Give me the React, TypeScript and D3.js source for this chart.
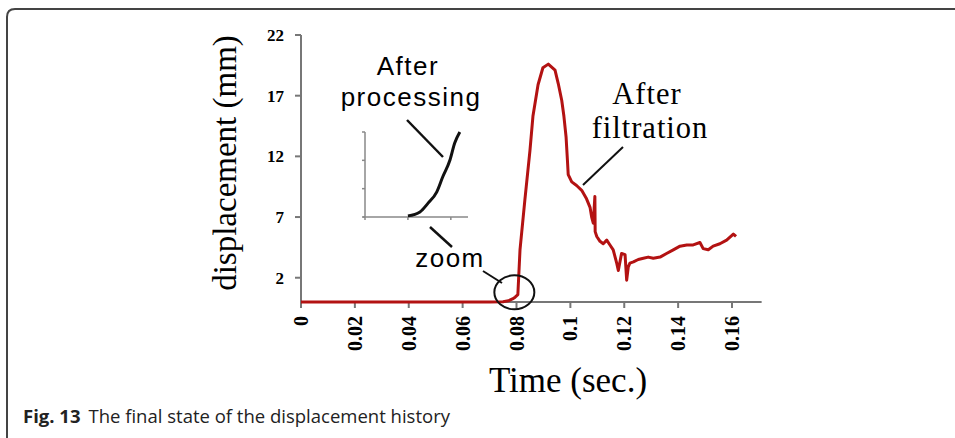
import React from 'react';
import * as d3 from 'd3';

// main displacement record (sec, mm)
const time = [
  0, 0.01, 0.02, 0.03, 0.04, 0.05, 0.06, 0.07, 0.075, 0.077, 0.0785, 0.0795, 0.0805,
  0.0813, 0.0831, 0.085, 0.0861, 0.088, 0.0898, 0.0918, 0.0943, 0.0955, 0.0968, 0.0976,
  0.0984, 0.0989, 0.0992, 0.1005, 0.1023, 0.1042, 0.106, 0.1073, 0.1079, 0.1085, 0.1091,
  0.1092, 0.1098, 0.111, 0.1122, 0.1135, 0.1147, 0.1159, 0.1172, 0.1178, 0.119, 0.1203,
  0.1209, 0.1215, 0.1221, 0.1234, 0.1252, 0.1271, 0.1289, 0.1308, 0.1333, 0.1357, 0.1382,
  0.1407, 0.1432, 0.1456, 0.1481, 0.1493, 0.1512, 0.153, 0.1555, 0.158, 0.1605, 0.1615,
];
const displacement = [
  0, 0, 0, 0, 0, 0, 0, 0, 0.02, 0.1, 0.25, 0.4, 0.6,
  4.3, 8.4, 12.5, 15.3, 17.9, 19.3, 19.6, 19.1, 18.0, 16.6, 15.3,
  13.6, 11.7, 10.5, 9.9, 9.6, 9.2, 8.5, 7.8, 7.0, 6.5, 8.7,
  5.8, 5.4, 5.0, 4.8, 5.1, 4.7, 4.3, 3.2, 2.6, 4.0, 3.9,
  1.8, 2.9, 3.2, 3.3, 3.5, 3.6, 3.7, 3.6, 3.7, 4.0, 4.3,
  4.6, 4.7, 4.7, 4.9, 4.4, 4.3, 4.6, 4.8, 5.1, 5.6, 5.4,
];
const xTicks = [0, 0.02, 0.04, 0.06, 0.08, 0.1, 0.12, 0.14, 0.16];
const yTicks = [2, 7, 12, 17, 22];

// zoomed inset ("After processing")
const insetX = [1.0, 1.28, 1.47, 1.67, 1.81, 1.98, 2.09, 2.21];
const insetY = [0.04, 0.18, 0.49, 0.88, 1.41, 2.01, 2.61, 3.0];
const insetXTicks = [0, 1, 2];
const insetYTicks = [0, 1, 2, 3];

const W = 955;
const H = 438;

export default function App() {
  const x = d3.scaleLinear().domain([0, 0.16]).range([301, 732]);
  const y = d3.scaleLinear().domain([0, 22]).range([302, 35]);
  const ix = d3.scaleLinear().domain([0, 2.4]).range([365, 468]);
  const iy = d3.scaleLinear().domain([0, 3]).range([217, 132]);

  const pts = time.map((t, i) => [t, displacement[i]] as [number, number]);
  const line = d3.line<[number, number]>().x(d => x(d[0])).y(d => y(d[1]));
  const ipts = insetX.map((v, i) => [v, insetY[i]] as [number, number]);
  const iline = d3.line<[number, number]>().x(d => ix(d[0])).y(d => iy(d[1])).curve(d3.curveMonotoneX);

  const serif = "'Liberation Serif', 'Times New Roman', serif";
  const sans = "'Open Sans', 'Noto Sans', sans-serif";
  const labelSans = "'Liberation Sans', Arial, sans-serif";
  const axisCol = '#777';

  return (
    <svg width={W} height={H} style={{ position: 'absolute', left: 0, top: 0, background: '#fff' }}>
      {/* figure frame */}
      <path d={`M 7 ${H + 5} L 7 17 Q 7 9 15 9 L ${W + 5} 9`} fill="none" stroke="#444" strokeWidth={2} />

      {/* y axis */}
      <line x1={x(0)} x2={x(0)} y1={y(22)} y2={y(0)} stroke={axisCol} strokeWidth={2} />
      {yTicks.map(t => (
        <g key={t}>
          <line x1={x(0) - 6} x2={x(0)} y1={y(t)} y2={y(t)} stroke={axisCol} strokeWidth={2} />
          <text x={x(0) - 17} y={y(t)} dy="0.35em" textAnchor="end" fontFamily={serif} fontWeight="bold" fontSize={17}>
            {t}
          </text>
        </g>
      ))}

      {/* x axis */}
      <line x1={x(0)} x2={x(0.171)} y1={y(0)} y2={y(0)} stroke={axisCol} strokeWidth={2} />
      {xTicks.map(t => (
        <g key={t}>
          <line x1={x(t)} x2={x(t)} y1={y(0)} y2={y(0) + 6} stroke={axisCol} strokeWidth={2} />
          <text
            transform={`translate(${x(t)},${y(0) + 14}) rotate(-90)`}
            dy="0.35em"
            textAnchor="end"
            fontFamily={serif}
            fontWeight="bold"
            fontSize={20}
          >
            {String(t)}
          </text>
        </g>
      ))}

      {/* axis titles */}
      <text x={568} y={392} textAnchor="middle" fontFamily={serif} fontSize={35}>Time (sec.)</text>
      <text transform="translate(236,163) rotate(-90)" textAnchor="middle" fontFamily={serif} fontSize={33}>
        displacement (mm)
      </text>

      {/* curve */}
      <path d={line(pts) ?? ''} fill="none" stroke="#b31212" strokeWidth={3} strokeLinejoin="round" />

      {/* zoom circle */}
      <ellipse cx={x(0.0792)} cy={y(0.8)} rx={20} ry={17} fill="none" stroke="#111" strokeWidth={2} />

      {/* inset */}
      <line x1={ix(0)} x2={ix(0)} y1={iy(3)} y2={iy(0)} stroke="#888" strokeWidth={1.5} />
      <line x1={ix(-0.05)} x2={ix(2.4)} y1={iy(0)} y2={iy(0)} stroke="#888" strokeWidth={1.5} />
      {insetYTicks.map(t => (
        <line key={t} x1={ix(0) - 3} x2={ix(0)} y1={iy(t)} y2={iy(t)} stroke="#888" strokeWidth={1.5} />
      ))}
      {insetXTicks.map(t => (
        <line key={t} x1={ix(t)} x2={ix(t)} y1={iy(0)} y2={iy(0) + 3} stroke="#888" strokeWidth={1.5} />
      ))}
      <path d={iline(ipts) ?? ''} fill="none" stroke="#111" strokeWidth={3} />

      {/* annotations */}
      <text x={408} y={75} textAnchor="middle" fontFamily={labelSans} fontSize={26} letterSpacing={1.5}>After</text>
      <text x={411} y={105.5} textAnchor="middle" fontFamily={labelSans} fontSize={26} letterSpacing={1.5}>processing</text>
      <line x1={407} y1={120} x2={443} y2={157} stroke="#111" strokeWidth={2.5} />

      <text x={450} y={267} textAnchor="middle" fontFamily={labelSans} fontSize={26} letterSpacing={1.5}>zoom</text>
      <line x1={430} y1={227} x2={452} y2={247} stroke="#111" strokeWidth={2.5} />
      <line x1={483} y1={271} x2={502} y2={283} stroke="#111" strokeWidth={2} />

      <text x={647} y={104} textAnchor="middle" fontFamily={serif} fontSize={30.5} letterSpacing={1}>After</text>
      <text x={650} y={138} textAnchor="middle" fontFamily={serif} fontSize={30.5} letterSpacing={1}>filtration</text>
      <line x1={623} y1={147} x2={583} y2={185} stroke="#111" strokeWidth={2} />

      {/* caption */}
      <text x={23} y={423} fontFamily={sans} fontSize={18.5} fill="#222">
        <tspan fontWeight="bold">Fig. 13</tspan>
        <tspan dx={8}>The final state of the displacement history</tspan>
      </text>
    </svg>
  );
}
